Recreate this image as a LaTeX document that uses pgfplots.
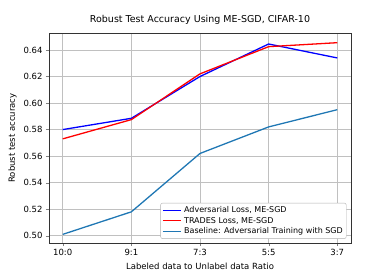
\documentclass[border=0pt]{standalone}
\usepackage{pgfplots}
\pgfplotsset{compat=1.18}
\usepackage{fontspec}
\setmainfont{DejaVu Sans}
\definecolor{c0}{HTML}{1F77B4}
\definecolor{gridc}{HTML}{B0B0B0}
\begin{document}
\begin{tikzpicture}
\begin{axis}[
  scale only axis,
  width=302bp, height=210bp,
  xmin=-0.2, xmax=4.2,
  ymin=0.4945, ymax=0.6528,
  xtick={0,1,2,3,4},
  xticklabels={10:0,9:1,7:3,5:5,3:7},
  ytick={0.50,0.52,0.54,0.56,0.58,0.60,0.62,0.64},
  yticklabel style={/pgf/number format/.cd,fixed,fixed zerofill,precision=2},
  /pgf/number format/assume math mode=true,
  tick label style={font=\fontsize{8.5bp}{10bp}\selectfont},
  label style={font=\fontsize{8.5bp}{10bp}\selectfont},
  title style={font=\fontsize{9.5bp}{11bp}\selectfont, yshift=-1bp},
  title={Robust Test Accuracy Using ME-SGD, CIFAR-10},
  xlabel={Labeled data to Unlabel data Ratio},
  ylabel={Robust test accuracy},
  grid=major,
  major grid style={gridc!80, line width=0.7pt},
  tick align=outside,
  tick pos=left,
  major tick length=3bp,
  axis line style={black!80, line width=0.7pt},
  legend style={font=\fontsize{8bp}{9.5bp}\selectfont, draw=gridc, rounded corners=2pt, inner sep=1.5pt, row sep=-1pt, at={(0.985,0.02)}, anchor=south east},
  legend cell align=left,
  legend image post style={xscale=1.1},
]
\addplot[blue, line width=1.3pt] coordinates {(0,0.580) (1,0.5885) (2,0.620) (3,0.6445) (4,0.634)};
\addlegendentry{Adversarial Loss, ME-SGD}
\addplot[red, line width=1.3pt] coordinates {(0,0.573) (1,0.5875) (2,0.622) (3,0.6425) (4,0.6455)};
\addlegendentry{TRADES Loss, ME-SGD}
\addplot[c0, line width=1.3pt] coordinates {(0,0.501) (1,0.518) (2,0.562) (3,0.582) (4,0.595)};
\addlegendentry{Baseline: Adversarial Training with SGD}
\end{axis}
\path ([shift={(-49bp,-36bp)}]current axis.south west) rectangle ([shift={(39bp,33bp)}]current axis.north east);
\end{tikzpicture}
\end{document}
